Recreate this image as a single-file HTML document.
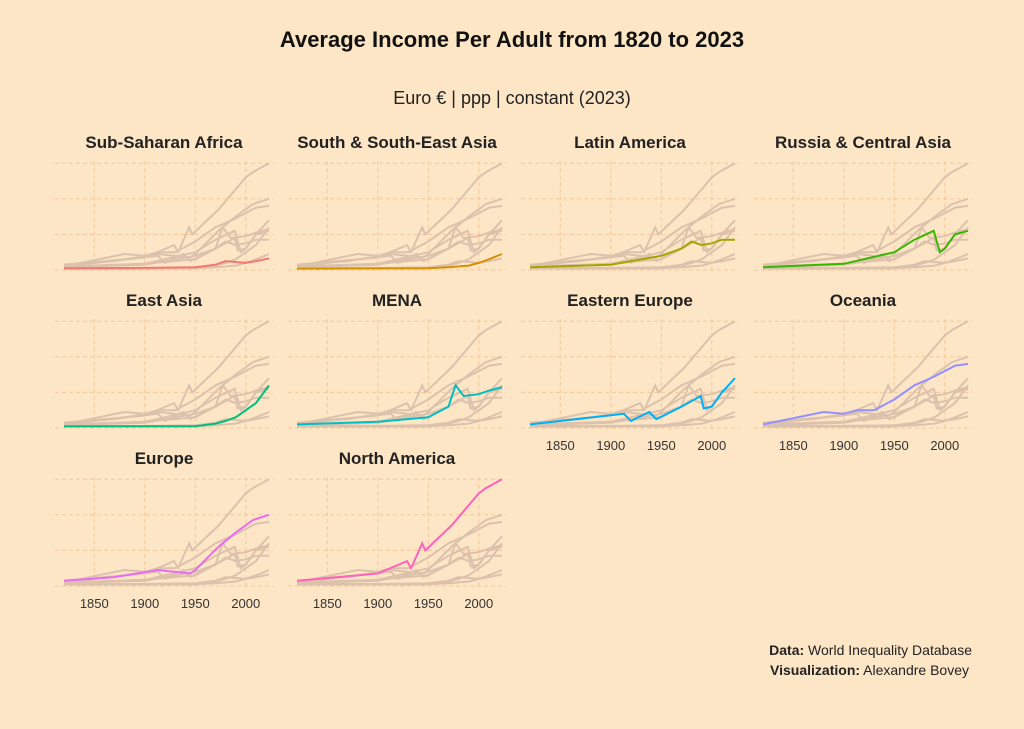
<!DOCTYPE html>
<html><head><meta charset="utf-8"><style>
body{margin:0;background:#fde6c6;}
svg{display:block;font-family:"Liberation Sans",sans-serif;}
</style></head><body>
<svg id="c" width="1024" height="729" viewBox="0 0 1024 729">
<rect width="1024" height="729" fill="#fde6c6"/>
<text x="512" y="47" text-anchor="middle" font-size="22" font-weight="bold" fill="#111">Average Income Per Adult from 1820 to 2023</text>
<text x="512" y="104" text-anchor="middle" font-size="18" fill="#222">Euro € | ppp | constant (2023)</text>
<text x="972" y="655" text-anchor="end" font-size="14" fill="#222"><tspan font-weight="bold">Data:</tspan> World Inequality Database</text>
<text x="969" y="675" text-anchor="end" font-size="14" fill="#222"><tspan font-weight="bold">Visualization:</tspan> Alexandre Bovey</text>
<g id="panels"></g>
</svg>
<script>
const regions=["Sub-Saharan Africa","South & South-East Asia","Latin America","Russia & Central Asia","East Asia","MENA","Eastern Europe","Oceania","Europe","North America"];
const colors=["#f8766d","#d89000","#a3a500","#39b600","#00bf7d","#00bfc4","#00b0f6","#9590ff","#e76bf3","#ff62bc"];
const years0=[1820,1900,1950,1970,1980,1990,2000,2010,2023];
const ssaVals=[1,1.2,1.5,3,5,4.5,4,5,6.5];
const years1=[1820,1900,1950,1970,1990,2000,2010,2023];
const sasVals=[0.8,0.9,1,1.5,2.5,4,6,9];
const years2=[1820,1900,1950,1970,1980,1990,2000,2010,2023];
const latVals=[1.5,3,8,12,16,14,15,17,17];
const years3=[1820,1900,1950,1970,1989,1995,2000,2010,2023];
const rusVals=[1.5,3.5,10,17,22,10,12,20,22];
const years4=[1820,1900,1950,1970,1980,1990,2000,2010,2023];
const easVals=[1,1,1,2.5,4,6,10,14,24];
const years5=[1820,1900,1950,1970,1977,1985,2000,2010,2023];
const menVals=[2,3.5,6,12,24,18,19,21,23];
const years6=[1820,1913,1920,1938,1945,1970,1989,1992,2000,2010,2023];
const eeuVals=[2,8,4,9,5,12,18,11,12,20,28];
const years7=[1820,1880,1900,1913,1930,1950,1970,1990,2010,2023];
const oceVals=[2,9,8,10,10,16,24,29,35,36];
const years8=[1820,1870,1913,1945,1950,1973,1990,2007,2023];
const eurVals=[3,5,9,7,9,22,30,37,40];
const years9=[1820,1900,1929,1933,1944,1947,1973,2000,2007,2023];
const namVals=[3,7,14,10,24,20,34,52,55,60];
const allYears=[years0,years1,years2,years3,years4,years5,years6,years7,years8,years9];
const allVals=[ssaVals,sasVals,latVals,rusVals,easVals,menVals,eeuVals,oceVals,eurVals,namVals];
const xTicks=[1850,1900,1950,2000];
const yGrid=[0,20,40,60];

const NS="http://www.w3.org/2000/svg";
const g=document.getElementById('panels');
function mk(t,a,p){const e=document.createElementNS(NS,t);for(const k in a)e.setAttribute(k,a[k]);(p||g).appendChild(e);return e;}
for(let i=0;i<10;i++){
  const col=i%4,row=Math.floor(i/4);
  const left=55+233*col,base=270+158*row,w=218;
  const xs=y=>left+9+(y-1820)*1.01;
  const ys=v=>base-v*1.78;
  const pg=mk('g',{});
  
  
  yGrid.forEach(v=>{const l=mk('line',{x1:left,x2:left+w,y1:ys(v),y2:ys(v),stroke:'#f3c79a','stroke-dasharray':'4 3','stroke-width':1},pg);
    });
  xTicks.forEach(t=>{const l=mk('line',{x1:xs(t),x2:xs(t),y1:ys(60)-2,y2:base+2,stroke:'#f3c79a','stroke-dasharray':'4 3','stroke-width':1},pg);
    });
  const tt=mk('text',{x:left+w/2,y:base-122,'text-anchor':'middle','font-size':17,'font-weight':'bold',fill:'#222'},pg);
  tt.textContent=regions[i];
  
  const path=(j)=>allYears[j].map((y,k)=>(k?'L':'M')+xs(y).toFixed(1)+','+ys(allVals[j][k]).toFixed(1)).join('');
  for(let j=0;j<10;j++){if(j===i)continue;
    const p=mk('path',{d:path(j),fill:'none',stroke:'#dcc2ac','stroke-width':2},pg);
    }
  const p=mk('path',{d:path(i),fill:'none',stroke:colors[i],'stroke-width':2},pg);
  
  const showX=(row===2)||(row===1&&col>=2);
  if(showX)xTicks.forEach(t=>{const tx=mk('text',{x:xs(t),y:base+22,'text-anchor':'middle','font-size':13,fill:'#333'},pg);
    tx.textContent=t;});
}
</script>
</body></html>
